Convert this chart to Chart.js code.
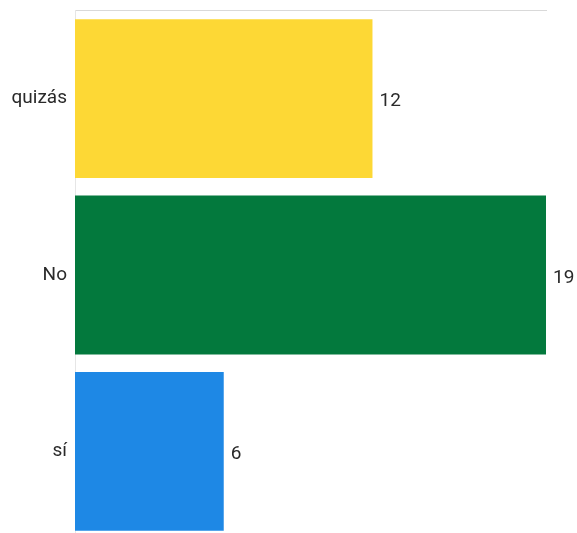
<!DOCTYPE html>
<html>
<head>
<meta charset="utf-8">
<script src="https://cdn.jsdelivr.net/npm/chart.js@4/dist/chart.umd.min.js"></script>
<style>
  html, body { margin: 0; padding: 0; background: #fff; overflow: hidden; }
  #wrap { width: 577px; height: 552px; margin-top: -1px; }
</style>
</head>
<body>
<div id="wrap"><canvas id="grafico"></canvas></div>
<script>
let categorias = ['quizás', 'No', 'sí'];
let valores = [12, 19, 6];
let cores = ['#FDD835', '#03793D', '#1E88E5'];

// escreve o valor ao lado de cada barra
let rotulos = {
    id: 'rotulos',
    afterDatasetsDraw(chart) {
        let ctx = chart.ctx;
        let meta = chart.getDatasetMeta(0);
        ctx.save();
        ctx.font = '19px Roboto';
        ctx.fillStyle = '#2a2a2a';
        ctx.textBaseline = 'middle';
        ctx.textAlign = 'left';
        meta.data.forEach(function (bar, i) {
            ctx.fillText(String(valores[i]), bar.x + 7, bar.y + 3);
        });
        ctx.restore();
    }
};

let grafico = new Chart(document.getElementById('grafico'), {
    type: 'bar',
    data: {
        labels: categorias,
        datasets: [{
            data: valores,
            backgroundColor: cores,
            borderWidth: 0,
            categoryPercentage: 1,
            barPercentage: 0.9
        }]
    },
    options: {
        indexAxis: 'y',
        responsive: true,
        maintainAspectRatio: false,
        animation: false,
        layout: { padding: { top: 3, right: 31, bottom: 0, left: 0 } },
        plugins: {
            legend: { display: false },
            tooltip: { enabled: false }
        },
        scales: {
            x: {
                position: 'top',
                min: 0,
                max: 19,
                ticks: { display: false },
                grid: { display: false },
                border: { display: true, color: '#d9d9d9', width: 1 },
                afterFit: function (scale) { scale.height = 0; }
            },
            y: {
                grid: { display: false },
                border: { display: true, color: '#e6e6e6', width: 1 },
                ticks: {
                    color: '#2a2a2a',
                    padding: 0,
                    font: { family: 'Roboto', size: 19 }
                },
                afterFit: function (scale) { scale.width = 75; }
            }
        }
    },
    plugins: [rotulos]
});
</script>
</body>
</html>
